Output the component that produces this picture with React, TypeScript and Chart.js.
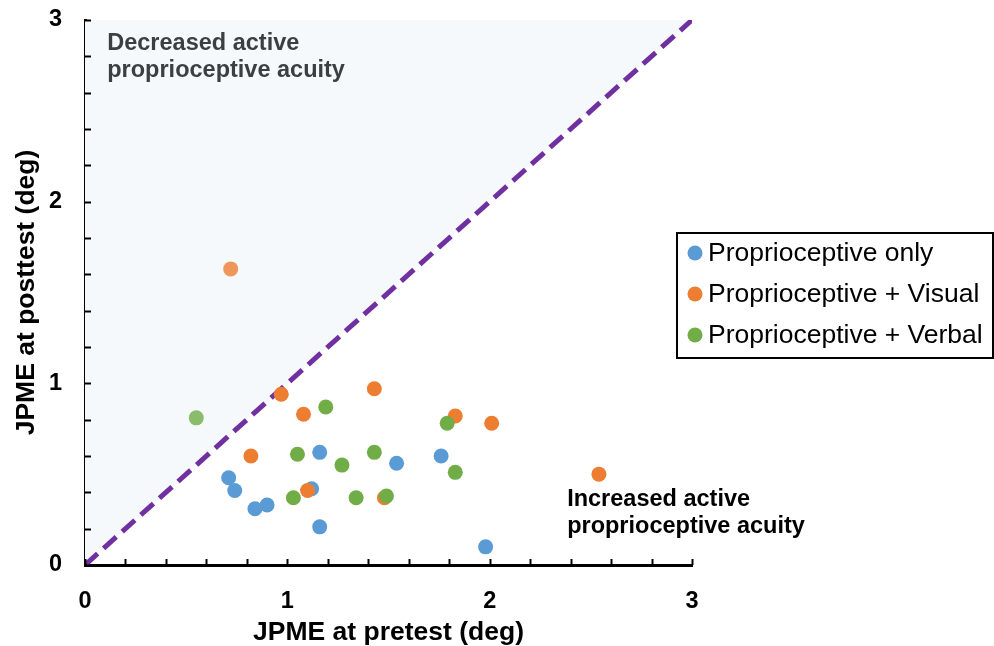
import React, { useEffect, useRef } from 'react';
import { Chart, registerables } from 'chart.js';

Chart.register(...registerables);

const FONT = '"Liberation Sans", Arial, Helvetica, sans-serif';

// ---- data ----
const seriesNames = ['Proprioceptive only', 'Proprioceptive + Visual', 'Proprioceptive + Verbal'];

const onlyPre = [0.71, 0.74, 0.84, 0.90, 1.16, 1.12, 1.16, 1.54, 1.76, 1.98];
const onlyPost = [0.48, 0.41, 0.31, 0.33, 0.62, 0.42, 0.21, 0.56, 0.60, 0.10];

const visualPre = [0.72, 0.97, 1.08, 0.82, 1.10, 1.43, 1.83, 2.01, 1.48, 2.54];
const visualPost = [1.63, 0.94, 0.83, 0.60, 0.41, 0.97, 0.82, 0.78, 0.37, 0.50];

const verbalPre = [0.55, 1.19, 1.05, 1.27, 1.03, 1.34, 1.43, 1.49, 1.79, 1.83];
const verbalPost = [0.81, 0.87, 0.61, 0.55, 0.37, 0.37, 0.62, 0.38, 0.78, 0.51];

const identityX = [0, 3];
const identityY = [0, 3];

const axisMin = 0;
const axisMax = 3;
const minorStep = 0.2;

const xTitle = 'JPME at pretest (deg)';
const yTitle = 'JPME at posttest (deg)';

const decreasedText = ['Decreased active', 'proprioceptive acuity'];
const decreasedAt = { x: 0.11, y: 2.835 };
const increasedText = ['Increased active', 'proprioceptive acuity'];
const increasedAt = { x: 2.383, y: 0.325 };

const COLORS = ['#5b9bd5', '#ed7d31', '#70ad47'];
const FADED = ['rgba(91,155,213,0.8)', 'rgba(237,125,49,0.8)', 'rgba(112,173,71,0.8)'];

const pts = (xs: number[], ys: number[]) => xs.map((x, i) => ({ x, y: ys[i] }));

const isInt = (v: number) => Math.abs(v - Math.round(v)) < 1e-6;

const overlayPlugin = {
  id: 'overlay',
  afterDatasetsDraw(chart: any) {
    const { ctx, chartArea, scales } = chart;
    const xs = scales.x;
    const ys = scales.y;
    ctx.save();
    // inward minor ticks
    ctx.strokeStyle = '#000';
    ctx.lineWidth = 2;
    const tickLen = 6;
    xs.ticks.forEach((t: any) => {
      const px = Math.round(xs.getPixelForValue(t.value)) + 0.5;
      ctx.beginPath();
      ctx.moveTo(px, chartArea.bottom);
      ctx.lineTo(px, chartArea.bottom - tickLen);
      ctx.stroke();
    });
    ys.ticks.forEach((t: any) => {
      const py = Math.round(ys.getPixelForValue(t.value)) + 0.5;
      ctx.beginPath();
      ctx.moveTo(chartArea.left, py);
      ctx.lineTo(chartArea.left + tickLen, py);
      ctx.stroke();
    });

    // region annotations
    ctx.font = `bold 23.5px ${FONT}`;
    ctx.textAlign = 'left';
    ctx.textBaseline = 'alphabetic';
    const lineGap = 27;
    ctx.fillStyle = '#3b3f44';
    decreasedText.forEach((s, i) => {
      ctx.fillText(s, xs.getPixelForValue(decreasedAt.x), ys.getPixelForValue(decreasedAt.y) + i * lineGap);
    });
    ctx.fillStyle = '#000';
    increasedText.forEach((s, i) => {
      ctx.fillText(s, xs.getPixelForValue(increasedAt.x), ys.getPixelForValue(increasedAt.y) + i * lineGap);
    });

    // legend box
    const boxL = 677, boxT = 233, boxW = 316, boxH = 125;
    ctx.lineWidth = 2;
    ctx.strokeStyle = '#000';
    ctx.strokeRect(boxL, boxT, boxW, boxH);
    ctx.font = `26.5px ${FONT}`;
    ctx.textBaseline = 'middle';
    const rowH = 41;
    seriesNames.forEach((name, i) => {
      const cy = boxT + 20 + i * rowH;
      ctx.fillStyle = COLORS[i];
      ctx.beginPath();
      ctx.arc(boxL + 18, cy, 7.5, 0, Math.PI * 2);
      ctx.fill();
      ctx.fillStyle = '#000';
      ctx.fillText(name, boxL + 31, cy + 1);
    });
    ctx.restore();
  },
};

export default function App() {
  const ref = useRef<HTMLCanvasElement | null>(null);

  useEffect(() => {
    if (!ref.current) return;
    const scatterDs = (i: number, xs: number[], ys: number[], order: number) => ({
      type: 'scatter' as const,
      label: seriesNames[i],
      data: pts(xs, ys),
      backgroundColor: (c: any) => (c.dataIndex === 0 && i > 0 ? FADED[i] : COLORS[i]),
      borderWidth: 0,
      pointRadius: 7.5,
      pointHoverRadius: 7.5,
      order,
    });

    const tickFont = { family: FONT, size: 23.5, weight: 'bold' as const };
    const titleFont = { family: FONT, size: 26.5, weight: 'bold' as const };

    const chart = new Chart(ref.current, {
      type: 'scatter',
      data: {
        datasets: [
          {
            type: 'line',
            label: 'identity',
            data: pts(identityX, identityY),
            borderColor: '#7030a0',
            borderWidth: 5,
            borderDash: [17, 8],
            fill: 'end',
            backgroundColor: '#f5f9fc',
            pointRadius: 0,
            order: 10,
          } as any,
          scatterDs(0, onlyPre, onlyPost, 3),
          scatterDs(1, visualPre, visualPost, 2),
          scatterDs(2, verbalPre, verbalPost, 1),
        ],
      },
      options: {
        animation: false,
        responsive: false,
        events: [],
        layout: { padding: { top: 20, right: 302, left: 0, bottom: 0 } },
        plugins: { legend: { display: false }, tooltip: { enabled: false } },
        scales: {
          x: {
            type: 'linear',
            min: axisMin,
            max: axisMax,
            ticks: {
              stepSize: minorStep,
              autoSkip: false,
              maxRotation: 0,
              padding: 22,
              color: '#000',
              font: tickFont,
              callback: (v: any) => (isInt(Number(v)) ? String(Math.round(Number(v))) : ''),
            },
            grid: { display: true, drawOnChartArea: false, drawTicks: false },
            border: { display: true, color: '#000', width: 3 },
            title: { display: true, text: xTitle, color: '#000', font: titleFont, padding: { top: 0, bottom: -3 } },
            afterFit: (s: any) => {
              s.height = 81;
              s.paddingLeft = 0;
              s.paddingRight = 0;
            },
          },
          y: {
            type: 'linear',
            min: axisMin,
            max: axisMax,
            ticks: {
              stepSize: minorStep,
              autoSkip: false,
              padding: 23,
              color: '#000',
              font: tickFont,
              callback: (v: any) => (isInt(Number(v)) ? String(Math.round(Number(v))) : ''),
            },
            grid: { display: true, drawOnChartArea: false, drawTicks: false },
            border: { display: true, color: '#000', width: 3 },
            title: { display: true, text: yTitle, color: '#000', font: titleFont, padding: { top: 11, bottom: 0 } },
            afterFit: (s: any) => {
              s.width = 85;
              s.paddingTop = 0;
              s.paddingBottom = 0;
            },
          },
        },
      } as any,
      plugins: [overlayPlugin],
    });
    return () => chart.destroy();
  }, []);

  return (
    <div style={{ position: 'absolute', left: 0, top: 0, width: 994, height: 646, background: '#fff' }}>
      <canvas ref={ref} width={994} height={646} style={{ display: 'block' }} />
    </div>
  );
}
